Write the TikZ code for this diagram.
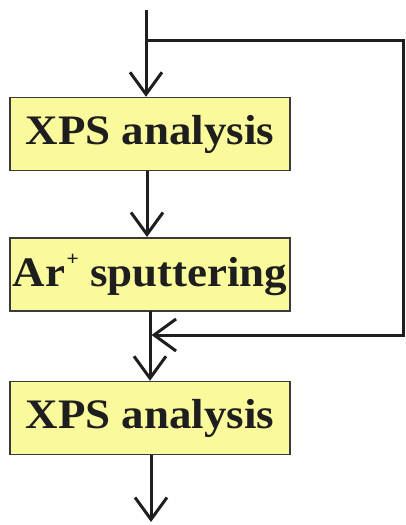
\documentclass[tikz,border=0pt]{standalone}
\usepackage{fontspec}
\setmainfont{Liberation Serif}
\usetikzlibrary{arrows.meta}
\definecolor{boxfill}{HTML}{FAFA9C}
\definecolor{boxline}{HTML}{3A3A3A}
\definecolor{ink}{HTML}{1E1E1E}
\newcommand{\smallplus}{\kern1.5pt\raisebox{21pt}{\fontsize{20}{20}\selectfont +}}
\tikzset{
  stepbox/.style={draw=boxline, line width=1.4pt, fill=boxfill,
    minimum width=280pt, minimum height=73pt, inner sep=0pt,
    font=\bfseries\fontsize{42}{48}\selectfont, text=ink},
  flow/.style={draw=ink, line width=3pt,
    -{Straight Barb[length=22pt,width=32pt,line width=3pt]}},
  plain/.style={draw=ink, line width=3pt}
}
\begin{document}
\begin{tikzpicture}[x=1pt,y=-1pt]
  \useasboundingbox (0,0) rectangle (405,525);
  % process steps
  \node[stepbox] (b1) at (150,134) {\scalebox{1.07}[1]{XPS analysis}};
  \node[stepbox] (b2) at (150,274.5) {\scalebox{1.07}[1]{Ar\smallplus\ sputtering}};
  \node[stepbox] (b3) at (150,418) {\scalebox{1.07}[1]{XPS analysis}};
  % connector end points
  \coordinate (in) at (146,10);
  \coordinate (split) at (146,40);
  \coordinate (tr) at (403,40);
  \coordinate (br) at (403,335);
  \coordinate (join) at (150,335);
  \coordinate (out) at (151,522);
  % main flow
  \draw[flow] (in) -- (in |- b1.north);
  \draw[flow] (147,170.5) -- (147,237);
  \draw[plain] (150,311) -- (join);
  \draw[flow] (join) -- (join |- b3.north);
  \draw[flow] (151,455) -- (out);
  % bypass loop
  \draw[plain, line join=miter] (split) -- (tr) -- (br) -- (176,335);
  \draw[flow] (br) -- ([xshift=1.5pt]join);
\end{tikzpicture}
\end{document}
